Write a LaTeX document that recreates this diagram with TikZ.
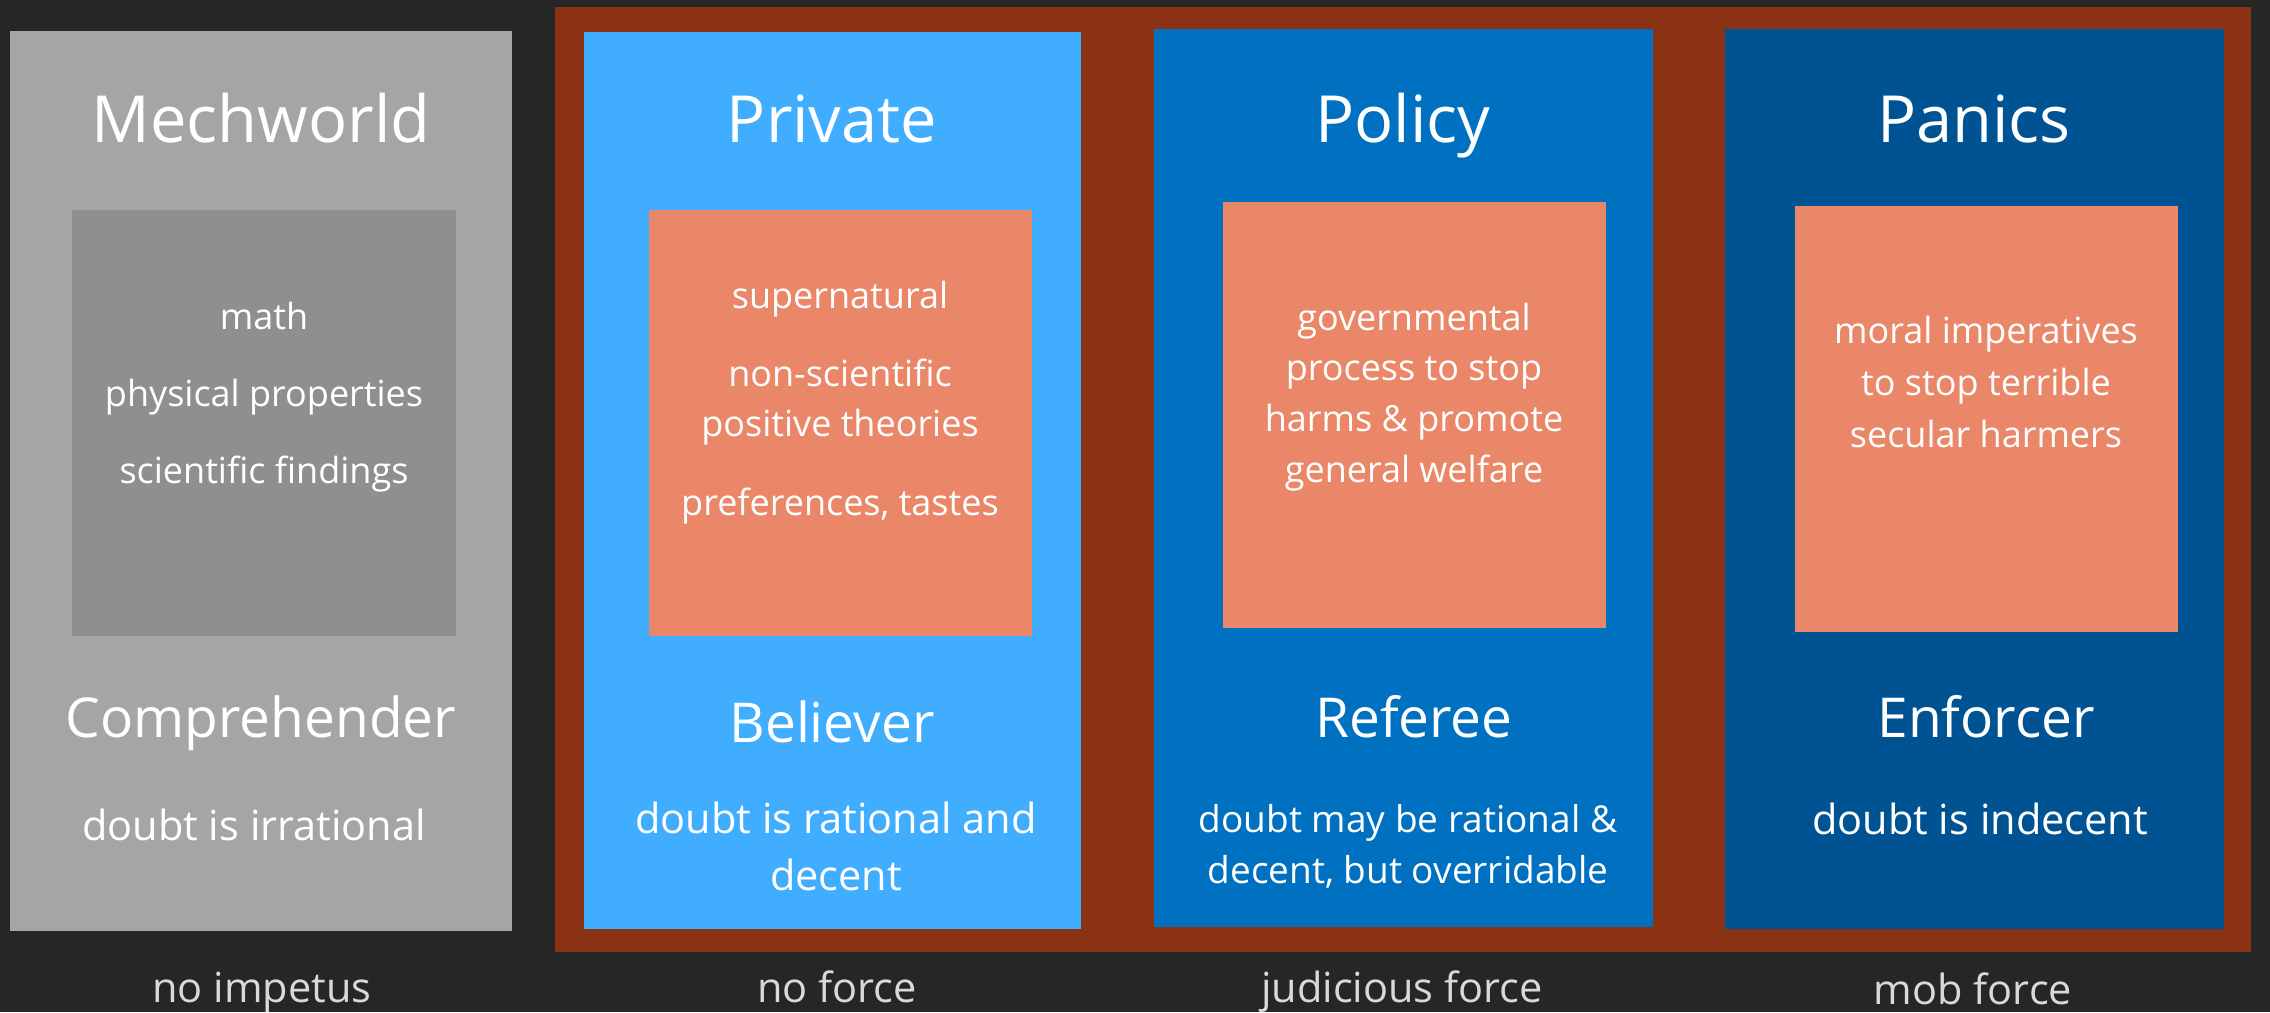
\documentclass[tikz,border=0pt]{standalone}
\usepackage{fontspec}
\setmainfont{Open Sans}
\definecolor{bgdark}{RGB}{38,38,38}
\definecolor{mechgray}{RGB}{165,165,165}
\definecolor{mechinner}{RGB}{143,143,143}
\definecolor{frame}{RGB}{139,49,20}
\definecolor{privblue}{RGB}{64,173,255}
\definecolor{polblue}{RGB}{0,112,192}
\definecolor{panblue}{RGB}{0,83,147}
\definecolor{salmon}{RGB}{234,135,104}
\definecolor{botgray}{RGB}{217,217,217}
\newcommand\ftitle{\fontsize{32.5}{39}\selectfont}
\newcommand\fsub{\fontsize{27.5}{33}\selectfont}
\newcommand\finner{\fontsize{18}{25}\selectfont}
\newcommand\fdoubt{\fontsize{20.75}{28.5}\selectfont}
\newcommand\fref{\fontsize{18.5}{25.5}\selectfont}
\newcommand\fbot{\fontsize{20.75}{25}\selectfont}
\tikzset{
  txt/.style={text=white, inner sep=0pt, anchor=base, align=center},
  title/.style={txt, font=\ftitle},
  role/.style={txt, font=\fsub},
  inner/.style={txt, font=\finner},
  doubt/.style={txt, font=\fdoubt},
  bottom/.style={txt, text=botgray, font=\fbot},
}
\begin{document}
\begin{tikzpicture}[x=0.5pt,y=-0.5pt]
\useasboundingbox (0,0) rectangle (2270,1012);
\fill[bgdark] (0,0) rectangle (2270,1012);
% Mechworld column
\fill[mechgray] (10,31) rectangle (512,931);
\fill[mechinner] (72,210) rectangle (456,636);
% frame around the three other columns
\fill[frame] (555,7) rectangle (2251,952);
\fill[privblue] (584,32) rectangle (1081,929);
\fill[salmon] (649,210) rectangle (1032,636);
\fill[polblue] (1154,29) rectangle (1653,927);
\fill[salmon] (1223,202) rectangle (1606,628);
\fill[panblue] (1725,29) rectangle (2224,929);
\fill[salmon] (1795,206) rectangle (2178,632);

% titles
\node[title] (t1) at (261,142) {Mechworld};
\node[title] (t2) at (832,142) {Private};
\node[title] (t3) at (1403,142) {Policy};
\node[title] (t4) at (1974,142) {Panics};

% inner texts (multi-line nodes: base = baseline of last line)
\node[inner] (i1) at (264,483) {math\\[13.5pt]physical properties\\[13.5pt]scientific findings};
\node[inner] (i2) at (840,515) {supernatural\\[14pt]non-scientific\\positive theories\\[14.5pt]preferences, tastes};
\node[inner, font=\fontsize{18}{25.3}\selectfont] (i3) at (1414,482) {governmental\\process to stop\\harms \& promote\\general welfare};
\node[inner, font=\fontsize{18}{26}\selectfont] (i4) at (1986,447) {moral imperatives\\to stop terrible\\secular harmers};

% roles
\node[role] (r1) at (261,737) {Comprehender};
\node[role] (r2) at (832,742) {Believer};
\node[role] (r3) at (1414,737) {Referee};
\node[role] (r4) at (1986,737) {Enforcer};

% doubt statements
\node[doubt] (d1) at (254,840) {doubt is irrational};
\node[doubt] (d2) at (836,890) {doubt is rational and\\decent};
\node[txt, font=\fref] (d3) at (1408,883) {doubt may be rational \&\\decent, but overridable};
\node[doubt] (d4) at (1980,834) {doubt is indecent};

% bottom labels
\node[bottom] (b1) at (262,1002) {no impetus};
\node[bottom] (b2) at (837,1002) {no force};
\node[bottom] (b3) at (1402,1002) {judicious force};
\node[bottom] (b4) at (1973,1004) {mob force};
\end{tikzpicture}
\end{document}
